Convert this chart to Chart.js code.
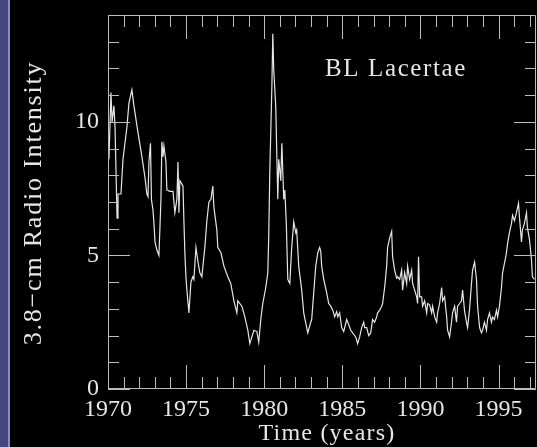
<!DOCTYPE html>
<html>
<head>
<meta charset="utf-8">
<title>BL Lacertae</title>
<script src="https://cdn.jsdelivr.net/npm/chart.js@4/dist/chart.umd.min.js"></script>
<style>
  html, body { margin: 0; padding: 0; background: #000; }
  #wrap {
    position: relative; width: 537px; height: 447px; overflow: hidden;
    background: linear-gradient(to right, #46467e 0, #46467e 8px, #8c8cbc 8px, #8c8cbc 10px, #000 10px);
  }
  canvas { position: absolute; left: 0; top: 0; }
</style>
</head>
<body>
<div id="wrap"><canvas id="c" width="537" height="447"></canvas></div>
<script>
// 3.8-cm radio light curve of BL Lacertae
const years = [
  1970.06, 1970.19, 1970.26, 1970.38, 1970.45, 1970.58, 1970.64, 1970.83, 1970.96, 1971.21,
  1971.34, 1971.53, 1971.66, 1971.92, 1972.17, 1972.37, 1972.49, 1972.56, 1972.62, 1972.72,
  1972.78, 1972.88, 1972.94, 1973.01, 1973.13, 1973.26, 1973.39, 1973.45, 1973.52, 1973.58,
  1973.71, 1973.77, 1973.96, 1974.16, 1974.28, 1974.41, 1974.48, 1974.54, 1974.60, 1974.80,
  1974.86, 1974.92, 1974.99, 1975.05, 1975.18, 1975.31, 1975.43, 1975.50, 1975.63, 1975.75,
  1975.88, 1976.01, 1976.20, 1976.33, 1976.46, 1976.59, 1976.71, 1976.78, 1976.97, 1977.03,
  1977.23, 1977.42, 1977.67, 1977.86, 1978.06, 1978.25, 1978.31, 1978.57, 1978.76, 1978.95,
  1979.08, 1979.21, 1979.34, 1979.53, 1979.65, 1979.78, 1979.91, 1980.10, 1980.23, 1980.29,
  1980.36, 1980.42, 1980.49, 1980.55, 1980.61, 1980.74, 1980.81, 1980.87, 1980.93, 1981.06,
  1981.13, 1981.25, 1981.32, 1981.42, 1981.51, 1981.64, 1981.76, 1981.89, 1982.02, 1982.08,
  1982.21, 1982.40, 1982.53, 1982.72, 1982.79, 1982.98, 1983.04, 1983.17, 1983.30, 1983.43,
  1983.55, 1983.62, 1983.68, 1983.81, 1984.00, 1984.13, 1984.26, 1984.39, 1984.51, 1984.64,
  1984.71, 1984.83, 1984.96, 1985.09, 1985.28, 1985.35, 1985.54, 1985.66, 1985.86, 1985.98,
  1986.11, 1986.24, 1986.37, 1986.43, 1986.56, 1986.69, 1986.82, 1986.94, 1987.07, 1987.20,
  1987.26, 1987.39, 1987.52, 1987.58, 1987.71, 1987.84, 1987.90, 1988.03, 1988.16, 1988.22,
  1988.35, 1988.48, 1988.54, 1988.67, 1988.80, 1988.86, 1988.99, 1989.12, 1989.18, 1989.31,
  1989.44, 1989.50, 1989.63, 1989.76, 1989.82, 1989.88, 1989.95, 1990.08, 1990.14, 1990.27,
  1990.40, 1990.46, 1990.59, 1990.72, 1990.78, 1990.91, 1991.04, 1991.10, 1991.23, 1991.36,
  1991.42, 1991.55, 1991.68, 1991.74, 1991.87, 1991.99, 1992.06, 1992.19, 1992.31, 1992.38,
  1992.51, 1992.63, 1992.70, 1992.83, 1992.95, 1993.02, 1993.15, 1993.27, 1993.34, 1993.47,
  1993.59, 1993.66, 1993.79, 1993.91, 1993.98, 1994.10, 1994.23, 1994.30, 1994.42, 1994.55,
  1994.62, 1994.74, 1994.87, 1994.94, 1995.06, 1995.19, 1995.26, 1995.38, 1995.51, 1995.58,
  1995.70, 1995.83, 1995.90, 1996.02, 1996.15, 1996.28, 1996.34, 1996.47, 1996.53, 1996.66,
  1996.79, 1996.85, 1996.98, 1997.11, 1997.17, 1997.30
];
const intensity = [
  8.6, 11.1, 10.0, 10.6, 9.8, 6.4, 7.3, 7.3, 8.6, 9.8,
  10.7, 11.2, 10.6, 9.6, 8.7, 7.9, 7.3, 7.2, 8.5, 9.2,
  7.1, 6.7, 6.2, 5.5, 5.2, 5.0, 7.1, 9.25, 8.7, 9.1,
  8.5, 7.45, 7.4, 7.4, 6.6, 7.1, 8.5, 6.6, 7.8, 7.6,
  6.3, 5.1, 4.2, 3.7, 2.85, 4.0, 4.2, 4.1, 5.3, 4.8,
  4.35, 4.2, 5.3, 6.3, 7.0, 7.1, 7.6, 6.8, 5.95, 5.3,
  5.1, 4.6, 4.2, 3.95, 3.3, 2.85, 3.3, 3.1, 2.7, 2.2,
  1.7, 1.95, 2.2, 2.15, 1.75, 2.6, 3.2, 3.8, 4.35, 5.7,
  8.2, 9.6, 11.3, 13.3, 11.95, 10.56, 8.7, 7.1, 8.6, 7.8,
  9.2, 7.1, 7.45, 6.1, 4.1, 3.95, 5.3, 6.25, 5.85, 5.95,
  4.6, 3.7, 2.85, 2.3, 2.1, 2.5, 2.6, 3.6, 4.6, 5.1,
  5.3, 5.15, 4.6, 4.1, 3.6, 3.2, 3.1, 2.95, 2.7, 2.9,
  2.7, 2.85, 2.3, 2.15, 2.6, 2.5, 2.2, 2.1, 1.95, 1.7,
  1.95, 2.3, 2.5, 2.3, 2.3, 2.0, 2.1, 2.6, 2.5, 2.7,
  2.85, 2.95, 3.1, 3.2, 3.8, 4.6, 5.3, 5.65, 5.9, 4.95,
  4.45, 4.15, 4.2, 4.1, 4.45, 3.7, 4.35, 3.95, 4.6, 4.1,
  4.45, 3.95, 3.7, 3.45, 3.2, 4.95, 3.45, 3.45, 3.1, 3.3,
  2.85, 3.2, 3.15, 2.85, 3.1, 2.7, 2.5, 2.85, 3.2, 3.8,
  3.3, 3.45, 2.7, 2.2, 1.95, 2.5, 2.85, 3.1, 2.5, 3.1,
  3.2, 3.3, 3.7, 2.9, 2.5, 2.3, 3.0, 3.95, 4.45, 4.75,
  4.1, 3.1, 2.3, 2.1, 2.2, 2.5, 2.2, 2.6, 2.85, 2.5,
  2.7, 2.6, 2.95, 2.7, 3.1, 3.8, 4.35, 4.7, 5.1, 5.45,
  5.85, 6.2, 6.5, 6.3, 6.6, 6.95, 6.45, 5.5, 5.95, 6.2,
  6.6, 6.05, 5.6, 4.85, 4.2, 4.1
];
const yearTicks = [1970, 1975, 1980, 1985, 1990, 1995];
const intensityTicks = [0, 5, 10];

const X_MIN = 1970, X_MAX = 1997.4, Y_MIN = 0, Y_MAX = 14;
const INK = '#e6e6e6';
const FRAME = '#bcbcbc';
const SERIF = '"Liberation Serif", "DejaVu Serif", serif';

// Frame with inward-pointing ticks on all four sides (minor every unit, major every 5)
const framePlugin = {
  id: 'frame',
  afterDatasetsDraw(chart) {
    const { ctx, chartArea: a, scales: { x, y } } = chart;
    ctx.save();
    ctx.strokeStyle = FRAME;
    ctx.lineWidth = 1;
    ctx.beginPath();
    ctx.rect(a.left + 0.5, a.top + 0.5, a.right - a.left - 1, a.bottom - a.top - 1);
    for (let yr = Math.ceil(X_MIN); yr <= X_MAX; yr++) {
      const px = Math.round(x.getPixelForValue(yr)) + 0.5;
      const len = yr % 5 === 0 ? 24 : 12;
      ctx.moveTo(px, a.bottom); ctx.lineTo(px, a.bottom - len);
      ctx.moveTo(px, a.top); ctx.lineTo(px, a.top + len);
    }
    for (let v = Y_MIN; v < Y_MAX; v++) {
      const py = Math.round(y.getPixelForValue(v)) + 0.5;
      const len = v % 5 === 0 ? 22 : 11;
      ctx.moveTo(a.left, py); ctx.lineTo(a.left + len, py);
      ctx.moveTo(a.right, py); ctx.lineTo(a.right - len, py);
    }
    ctx.stroke();
    ctx.restore();
  },
  afterDraw(chart) {
    const { ctx } = chart;
    ctx.save();
    ctx.fillStyle = INK;
    ctx.textAlign = 'center';
    ctx.textBaseline = 'middle';

    ctx.font = '25px ' + SERIF;
    ctx.letterSpacing = '1.6px';
    ctx.fillText('BL Lacertae', 396, 69);

    ctx.font = '24px ' + SERIF;
    ctx.letterSpacing = '1.2px';
    ctx.fillText('Time (years)', 327, 434);

    ctx.translate(34, 203);
    ctx.rotate(-Math.PI / 2);
    ctx.font = '26px ' + SERIF;
    ctx.letterSpacing = '1.8px';
    ctx.fillText('3.8\u2212cm Radio Intensity', 0, 0);
    ctx.restore();
  }
};

new Chart(document.getElementById('c'), {
  type: 'line',
  data: {
    datasets: [{
      data: years.map((yr, i) => ({ x: yr, y: intensity[i] })),
      borderColor: INK,
      borderWidth: 1.2,
      pointRadius: 0,
      tension: 0,
      fill: false
    }]
  },
  options: {
    responsive: false,
    animation: false,
    devicePixelRatio: 1,
    layout: { padding: { left: 0, top: 15, right: 1, bottom: 0 } },
    plugins: { legend: { display: false }, tooltip: { enabled: false } },
    scales: {
      x: {
        type: 'linear',
        min: X_MIN, max: X_MAX,
        grid: { display: false, drawTicks: false },
        border: { display: false },
        afterBuildTicks: s => { s.ticks = yearTicks.map(v => ({ value: v })); },
        afterFit: s => { s.height = 58; s.paddingLeft = 0; s.paddingRight = 0; },
        ticks: {
          color: INK, padding: 6, maxRotation: 0, autoSkip: false,
          font: { family: SERIF, size: 24 },
          callback: v => String(v)
        }
      },
      y: {
        type: 'linear',
        min: Y_MIN, max: Y_MAX,
        grid: { display: false, drawTicks: false },
        border: { display: false },
        afterBuildTicks: s => { s.ticks = intensityTicks.map(v => ({ value: v })); },
        afterFit: s => { s.width = 108; s.paddingTop = 0; s.paddingBottom = 0; },
        ticks: {
          color: INK, padding: 9, autoSkip: false,
          font: { family: SERIF, size: 24 },
          callback: v => String(v)
        }
      }
    }
  },
  plugins: [framePlugin]
});
</script>
</body>
</html>
